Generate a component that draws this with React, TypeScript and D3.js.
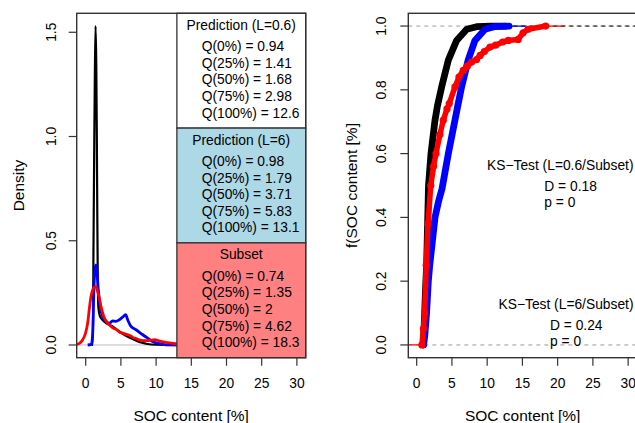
import React from "react";
import * as d3 from "d3";

// ---------- Density panel data ----------
const densBlackX = [0.85, 1.0, 1.05, 1.1, 1.2, 1.3, 1.4, 1.5, 1.58, 1.65, 1.72, 1.8, 2.0, 2.4, 2.88, 3.83, 4.78, 5.72, 6.67, 7.6, 8.57, 10, 12.6, 14];
const densBlackY = [0, 0, 0.15, 0.45, 0.9, 1.3, 1.53, 1.35, 1.0, 0.6, 0.3, 0.18, 0.14, 0.12, 0.105, 0.089, 0.065, 0.044, 0.029, 0.014, 0.006, 0.001, 0, 0];

const densBlueX = [0.28, 0.8, 1.0, 1.15, 1.3, 1.46, 1.6, 1.75, 1.93, 2.2, 2.41, 2.88, 3.36, 3.83, 4.3, 4.78, 5.2, 5.68, 5.96, 6.43, 7.14, 8.1, 8.8, 9.5, 10.5, 11.4, 14];
const densBlueY = [0, 0.003, 0.06, 0.25, 0.36, 0.384, 0.35, 0.28, 0.217, 0.16, 0.137, 0.113, 0.105, 0.116, 0.113, 0.121, 0.132, 0.145, 0.121, 0.089, 0.073, 0.049, 0.033, 0.017, 0.006, 0.001, 0];

const densRedX = [-1.3, -0.9, -0.43, 0, 0.3, 0.5, 0.75, 1.0, 1.22, 1.42, 1.7, 2.0, 2.17, 2.4, 2.65, 3.0, 3.36, 3.9, 4.3, 4.87, 5.26, 5.82, 6.2, 6.77, 7.14, 7.7, 8.1, 8.66, 9.2, 9.84, 10.5, 11.2, 11.9, 12.8, 14];
const densRedY = [0.003, 0.008, 0.025, 0.06, 0.11, 0.17, 0.233, 0.265, 0.277, 0.28, 0.256, 0.215, 0.185, 0.155, 0.129, 0.11, 0.097, 0.081, 0.075, 0.06, 0.057, 0.05, 0.047, 0.035, 0.031, 0.023, 0.021, 0.021, 0.023, 0.025, 0.019, 0.014, 0.01, 0.006, 0.004];

// ---------- Legend / quantile boxes ----------
const boxTitles = ["Prediction (L=0.6)", "Prediction (L=6)", "Subset"];
const boxFills = ["#FFFFFF", "#ADD8E6", "#FF8080"];
const quantileLabels = ["0%", "25%", "50%", "75%", "100%"];
const quantL06 = ["0.94", "1.41", "1.68", "2.98", "12.6"];
const quantL6 = ["0.98", "1.79", "3.71", "5.83", "13.1"];
const quantSubset = ["0.74", "1.35", "2", "4.62", "18.3"];
const boxQuantiles = [quantL06, quantL6, quantSubset];

// ---------- ECDF panel data ----------
const ecdfBlackX = [0.94, 1.1, 1.25, 1.41, 1.55, 1.68, 2.03, 2.6, 2.95, 3.55, 4.49, 5.67, 7.1, 8.5, 10.5, 12.6];
const ecdfBlackP = [0, 0.08, 0.17, 0.25, 0.38, 0.5, 0.6, 0.705, 0.75, 0.81, 0.893, 0.955, 0.99, 0.998, 1, 1];

const ecdfBlueX = [0.98, 1.15, 1.4, 1.65, 1.85, 2.1, 2.6, 3.1, 3.6, 4.49, 5.43, 5.83, 6.38, 7.3, 8.27, 9.7, 11, 13.1];
const ecdfBlueP = [0, 0.03, 0.1, 0.2, 0.25, 0.3, 0.4, 0.45, 0.49, 0.6, 0.705, 0.75, 0.81, 0.893, 0.955, 0.99, 0.998, 1];

const ecdfRedX = [0.74, 0.95, 1.13, 1.35, 1.6, 2.0, 2.4, 2.74, 3.3, 3.78, 4.3, 4.62, 5.43, 6.0, 6.6, 7.2, 7.8, 8.5, 9.0, 9.6, 10.4, 11.2, 12.2, 13.0, 14.4, 15.1, 15.8, 18.3];
const ecdfRedP = [0, 0.05, 0.1, 0.25, 0.38, 0.5, 0.56, 0.6, 0.66, 0.705, 0.74, 0.757, 0.809, 0.84, 0.861, 0.875, 0.887, 0.895, 0.908, 0.92, 0.934, 0.94, 0.95, 0.955, 0.958, 0.979, 0.99, 1];

const ksTitles = ["KS\u2212Test (L=0.6/Subset)", "KS\u2212Test (L=6/Subset)"];
const ksD = ["0.18", "0.24"];
const ksP = ["0", "0"];

const xTicks = [0, 5, 10, 15, 20, 25, 30];
const yTicksDens = [0, 0.5, 1, 1.5];
const yTicksEcdf = [0, 0.2, 0.4, 0.6, 0.8, 1];

const FONT = "'Liberation Sans', Arial, sans-serif";
const FS = 13.8;
const FS_T = 15.5;
const AX = "#333333";

export default function App() {
  const top = 13.3, bottom = 357.7;
  const xL = d3.scaleLinear().domain([-1.28, 31.25]).range([76.7, 305.7]);
  const yL = d3.scaleLinear().domain([-0.061, 1.591]).range([bottom, top]);
  const xR = d3.scaleLinear().domain([-1.19, 31.3]).range([408.3, 637.3]);
  const yR = d3.scaleLinear().domain([-0.04, 1.04]).range([bottom, top]);

  const lineL = (xs: number[], ys: number[]) =>
    d3.line<number>().x((_, i) => xL(xs[i])).y((_, i) => yL(ys[i])).curve(d3.curveMonotoneX)(xs) || "";
  const lineR = (xs: number[], ps: number[]) =>
    d3.line<number>().x((_, i) => xR(xs[i])).y((_, i) => yR(ps[i])).curve(d3.curveLinear)(xs) || "";

  const boxX0 = xL(12.95);
  const boxX1 = xL.range()[1];
  const boxH = (bottom - top) / 3;
  const lineGap = 16.6;

  return (
    <svg width={635} height={423} style={{ position: "absolute", left: 0, top: 0, background: "#fff" }} fontFamily={FONT}>
      <defs>
        <clipPath id="clipL">
          <rect x={xL.range()[0]} y={top} width={xL.range()[1] - xL.range()[0]} height={bottom - top} />
        </clipPath>
        <clipPath id="clipR">
          <rect x={xR.range()[0]} y={top} width={xR.range()[1] - xR.range()[0]} height={bottom - top} />
        </clipPath>
      </defs>
      <rect x={0} y={0} width={635} height={423} fill="#fff" />

      {/* ---------- Left panel ---------- */}
      <g clipPath="url(#clipL)">
        <line x1={xL.range()[0]} x2={xL.range()[1]} y1={yL(0)} y2={yL(0)} stroke="#BEBEBE" strokeWidth={1} />
        <path d={lineL(densBlackX, densBlackY)} fill="none" stroke="#000" strokeWidth={2.2} strokeLinejoin="round" />
        <path d={lineL(densBlueX, densBlueY)} fill="none" stroke="#0000FF" strokeWidth={2.8} strokeLinejoin="round" />
        <path d={lineL(densRedX, densRedY)} fill="none" stroke="#FF0000" strokeWidth={2.8} strokeLinejoin="round" />
      </g>
      {boxTitles.map((t, b) => {
        const y0 = top + b * boxH;
        return (
          <g key={t}>
            <rect x={boxX0} y={y0} width={boxX1 - boxX0} height={boxH} fill={boxFills[b]} stroke={AX} strokeWidth={1.3} />
            <text x={241.2} y={y0 + 12} fontSize={FS} textAnchor="middle" dominantBaseline="central">{t}</text>
            {quantileLabels.map((q, i) => (
              <text key={q} x={201.7} y={y0 + 33.4 + i * lineGap} fontSize={FS} dominantBaseline="central">
                {`Q(${q}) = ${boxQuantiles[b][i]}`}
              </text>
            ))}
          </g>
        );
      })}
      <rect x={xL.range()[0]} y={top} width={xL.range()[1] - xL.range()[0]} height={bottom - top} fill="none" stroke={AX} strokeWidth={1.4} />
      {xTicks.map((t) => (
        <g key={"xl" + t}>
          <line x1={xL(t)} x2={xL(t)} y1={bottom} y2={bottom + 8} stroke={AX} strokeWidth={1.2} />
          <text x={xL(t)} y={383.3} fontSize={FS} textAnchor="middle" dominantBaseline="central">{t}</text>
        </g>
      ))}
      {yTicksDens.map((t) => (
        <g key={"yl" + t}>
          <line x1={xL.range()[0] - 8} x2={xL.range()[0]} y1={yL(t)} y2={yL(t)} stroke={AX} strokeWidth={1.2} />
          <text transform={`translate(51.7,${yL(t)}) rotate(-90)`} fontSize={FS} textAnchor="middle" dominantBaseline="central">{t.toFixed(1)}</text>
        </g>
      ))}
      <text x={(xL.range()[0] + xL.range()[1]) / 2} y={415} fontSize={FS_T} textAnchor="middle" dominantBaseline="central">SOC content [%]</text>
      <text transform={`translate(18.3,${(top + bottom) / 2}) rotate(-90)`} fontSize={FS_T} textAnchor="middle" dominantBaseline="central">Density</text>

      {/* ---------- Right panel ---------- */}
      <g clipPath="url(#clipR)">
        {[0, 1].map((h) => (
          <line key={"h" + h} x1={xR.range()[0]} x2={xR.range()[1]} y1={yR(h)} y2={yR(h)} stroke="#9A9A9A" strokeWidth={1} strokeDasharray="4,4" />
        ))}
        <line x1={xR(12.6)} x2={xR(40)} y1={yR(1)} y2={yR(1)} stroke="#000" strokeWidth={1} strokeDasharray="4,4" />
        <line x1={xR(13.1)} x2={xR(15.6)} y1={yR(1)} y2={yR(1)} stroke="#0000FF" strokeWidth={1.2} />
        <line x1={xR(18.3)} x2={xR(21)} y1={yR(1)} y2={yR(1)} stroke="#FF0000" strokeWidth={1.2} />
        <line x1={xR(-2)} x2={xR(0.74)} y1={yR(0)} y2={yR(0)} stroke="#FF0000" strokeWidth={1.2} />
        <path d={lineR(ecdfBlackX, ecdfBlackP)} fill="none" stroke="#000" strokeWidth={6.8} strokeLinejoin="round" strokeLinecap="round" />
        <path d={lineR(ecdfBlueX, ecdfBlueP)} fill="none" stroke="#0000FF" strokeWidth={6.8} strokeLinejoin="round" strokeLinecap="round" />
        <path d={lineR(ecdfRedX, ecdfRedP)} fill="none" stroke="#FF0000" strokeWidth={5.5} strokeLinejoin="round" strokeLinecap="round" />
        {ecdfRedX.map((x, i) => (
          <circle key={"rp" + i} cx={xR(x)} cy={yR(ecdfRedP[i])} r={3.6} fill="#FF0000" />
        ))}
      </g>
      <rect x={xR.range()[0]} y={top} width={xR.range()[1] - xR.range()[0]} height={bottom - top} fill="none" stroke={AX} strokeWidth={1.4} />
      {xTicks.map((t) => (
        <g key={"xr" + t}>
          <line x1={xR(t)} x2={xR(t)} y1={bottom} y2={bottom + 8} stroke={AX} strokeWidth={1.2} />
          <text x={xR(t)} y={383.3} fontSize={FS} textAnchor="middle" dominantBaseline="central">{t}</text>
        </g>
      ))}
      {yTicksEcdf.map((t) => (
        <g key={"yr" + t}>
          <line x1={xR.range()[0] - 8} x2={xR.range()[0]} y1={yR(t)} y2={yR(t)} stroke={AX} strokeWidth={1.2} />
          <text transform={`translate(381.7,${yR(t)}) rotate(-90)`} fontSize={FS} textAnchor="middle" dominantBaseline="central">{t.toFixed(1)}</text>
        </g>
      ))}
      <text x={522.7} y={415} fontSize={FS_T} textAnchor="middle" dominantBaseline="central">SOC content [%]</text>
      <text transform={`translate(351.7,${(top + bottom) / 2}) rotate(-90)`} fontSize={FS_T} textAnchor="middle" dominantBaseline="central">f(SOC content [%]</text>

      {ksTitles.map((t, i) => {
        const ty = i === 0 ? 165 : 304;
        const lx = i === 0 ? 544.3 : 550;
        return (
          <g key={t}>
            <text x={633.5} y={ty} fontSize={FS} textAnchor="end" dominantBaseline="central">{t}</text>
            <text x={lx} y={ty + 21.3} fontSize={FS} dominantBaseline="central">{`D = ${ksD[i]}`}</text>
            <text x={lx} y={ty + 37.5} fontSize={FS} dominantBaseline="central">{`p = ${ksP[i]}`}</text>
          </g>
        );
      })}
    </svg>
  );
}
